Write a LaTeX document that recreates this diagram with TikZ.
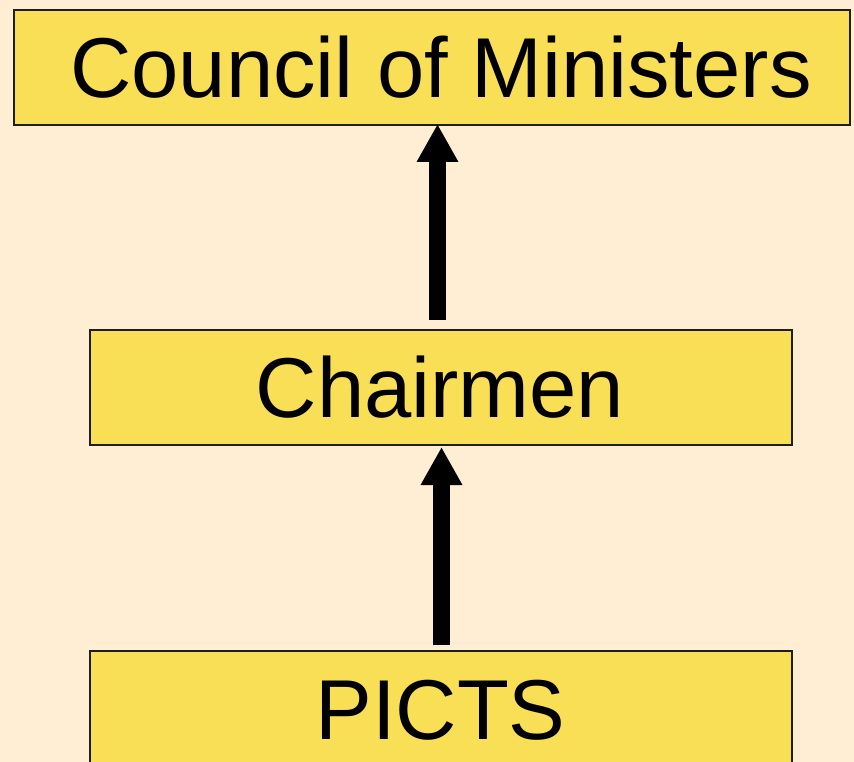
\documentclass[tikz,border=0pt]{standalone}
\usepackage{fontspec}
\setmainfont{Liberation Sans}
\usetikzlibrary{arrows.meta}
\definecolor{bgpeach}{HTML}{FFEDD4}
\definecolor{boxyellow}{HTML}{F9DF55}
\definecolor{boxline}{HTML}{1E1E1E}
\tikzset{
  box/.style={draw=boxline, line width=1.8pt, fill=boxyellow, inner sep=0pt},
  lbl/.style={font=\fontsize{85}{100}\selectfont, anchor=base, inner sep=0pt, text=black},
  uparrow/.style={line width=17pt, -{Triangle[width=39pt,length=38pt]}, draw=black}
}
\begin{document}
\begin{tikzpicture}[x=1pt,y=-1pt]
\useasboundingbox (0,0) rectangle (854,762);
\clip (0,0) rectangle (854,762);
\fill[bgpeach] (0,0) rectangle (854,762);
% boxes
\node[box, minimum width=836pt, minimum height=115pt] (council) at (432,67.5) {};
\node[box, minimum width=702pt, minimum height=115pt] (chair) at (441,387.5) {};
\node[box, minimum width=702pt, minimum height=115pt] (picts) at (441,708.5) {};
% labels
\node[lbl] (councilt) at (441,98) {Council of Ministers};
\node[lbl] (chairt) at (440,417) {Chairmen};
\node[lbl] (pictst) at (440.5,739) {PICTS};
% arrows
\coordinate (a1s) at (437.5,320);
\coordinate (a1e) at (437.5,124);
\coordinate (a2s) at (441.5,645);
\coordinate (a2e) at (441.5,447);
\draw[uparrow] (a1s) -- (a1e);
\draw[uparrow] (a2s) -- (a2e);
\end{tikzpicture}
\end{document}
